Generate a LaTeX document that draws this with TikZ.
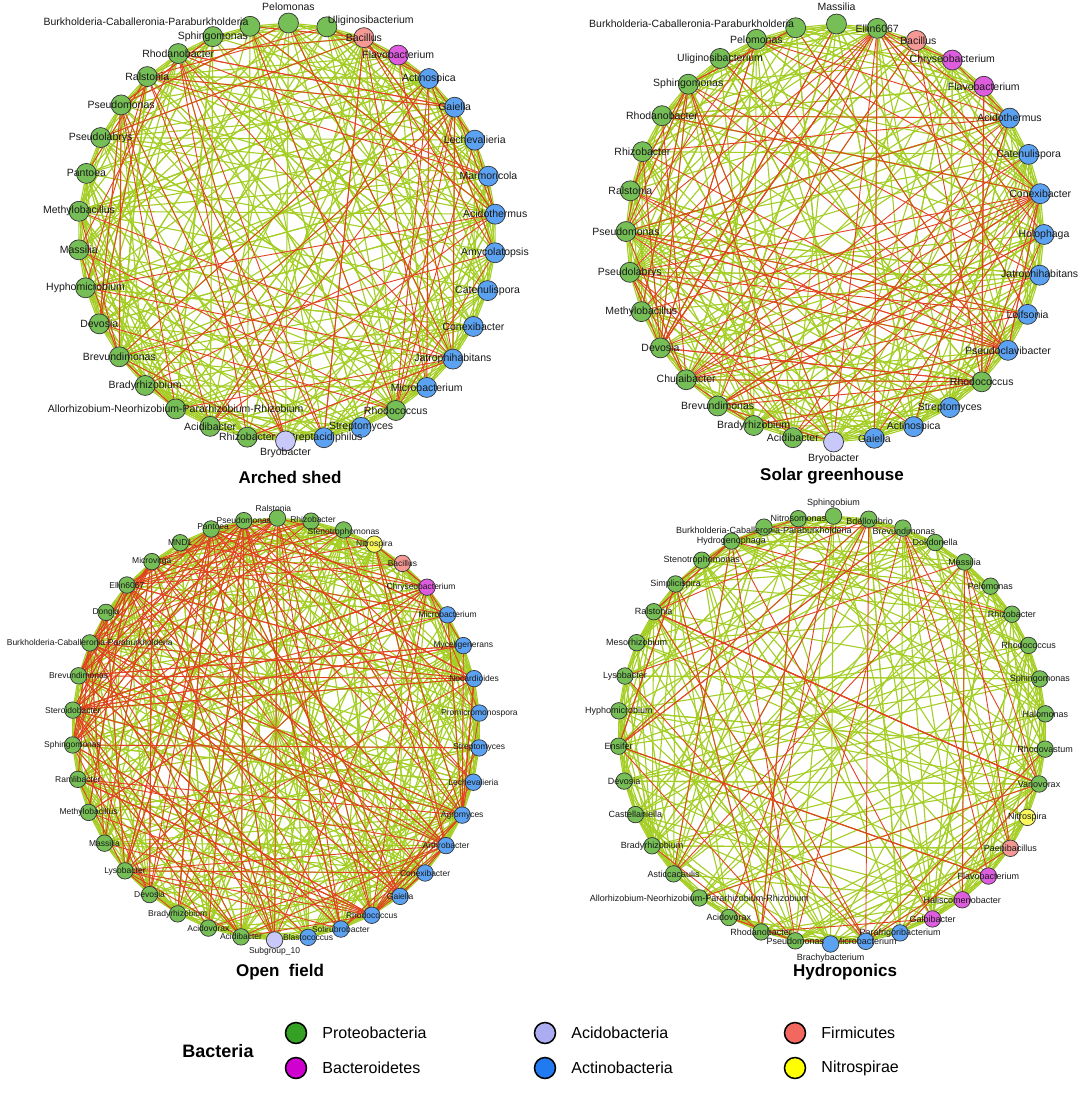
\documentclass[tikz,border=0pt]{standalone}
\usepackage{fontspec}
\setmainfont{Liberation Sans}
\usetikzlibrary{positioning,backgrounds}

\definecolor{proteo}{RGB}{118,190,86}
\definecolor{bactero}{RGB}{222,92,222}
\definecolor{acido}{RGB}{200,200,250}
\definecolor{actino}{RGB}{92,162,242}
\definecolor{firmi}{RGB}{246,152,148}
\definecolor{nitro}{RGB}{250,248,92}
\definecolor{proteoL}{RGB}{52,160,36}
\definecolor{bacteroL}{RGB}{208,0,208}
\definecolor{acidoL}{RGB}{172,172,242}
\definecolor{actinoL}{RGB}{34,122,240}
\definecolor{firmiL}{RGB}{242,104,94}
\definecolor{nitroL}{RGB}{255,255,0}
\definecolor{edgegreen}{RGB}{164,206,36}
\definecolor{edgered}{RGB}{226,66,32}

\begin{document}
\begin{tikzpicture}[x=1pt, y=-1pt,
  otu/.style={circle, draw=black!80, line width=0.7pt, minimum size=20pt, inner sep=0pt},
  otusmall/.style={otu, minimum size=16.5pt},
  lbl/.style={inner sep=0pt, text=black!90, font=\fontsize{10.5}{12}\selectfont},
  lblsmall/.style={lbl, font=\fontsize{8.5}{10}\selectfont},
  lblmid/.style={lbl, font=\fontsize{9}{10}\selectfont},
  gedge/.style={draw=edgegreen, line width=1.1pt},
  redge/.style={draw=edgered, line width=0.9pt},
  title/.style={font=\bfseries\fontsize{17}{20}\selectfont},
  legdot/.style={circle, draw=black, line width=1.5pt, minimum size=21pt, inner sep=0pt},
  legtxt/.style={font=\fontsize{16}{18}\selectfont, inner sep=0pt}]

% Page size and background
\useasboundingbox (0,0) rectangle (1084,1098);
\begin{scope}[on background layer]
  \fill[white] (0,0) rectangle (1084,1098);
\end{scope}

% Edges: ring of short chords, random chords, red hubs
\def\webedges#1#2#3#4#5{%
  \pgfmathtruncatemacro\lastn{#2-1}%
  \foreach \i in {0,...,\lastn}{%
    \foreach \k in {1,2,3}{%
      \pgfmathtruncatemacro\j{mod(\i+\k,#2)}%
      \draw[gedge] (#1\i) -- (#1\j);
    }%
    \foreach \k in {1,...,#3}{%
      \pgfmathtruncatemacro\j{mod(\i+random(4,#2-4),#2)}%
      \draw[gedge] (#1\i) -- (#1\j);
    }%
  }%
  \foreach \h in {#4}{%
    \foreach \k in {1,...,#5}{%
      \pgfmathtruncatemacro\j{mod(\h+random(2,#2-2),#2)}%
      \draw[redge] (#1\h) -- (#1\j);
    }%
  }%
}
\def\startang{-89.6}
\pgfmathsetseed{4711}

% Arched shed
\begin{scope}[shift={(287,232)}]
\foreach \nm/\cl/\lx/\ly [count=\i from 0] in {Pelomonas/proteo/0/-16,
  Uliginosibacterium/proteo/44/-6, Bacillus/firmi/0/0, Flavobacterium/bactero/0/0,
  Actinospica/actino/0/0, Gaiella/actino/0/0, Lechevalieria/actino/0/0, Marmoricola/actino/0/0,
  Acidothermus/actino/0/0, Amycolatopsis/actino/0/0, Catenulispora/actino/0/0, Conexibacter/actino/0/0,
  Jatrophihabitans/actino/0/0, Microbacterium/actino/0/0, Rhodococcus/proteo/0/0, Streptomyces/actino/0/0,
  Streptacidiphilus/actino/0/0, Bryobacter/acido/0/12, Rhizobacter/proteo/0/0, Acidibacter/proteo/0/0,
  Allorhizobium-Neorhizobium-Pararhizobium-Rhizobium/proteo/0/0, Bradyrhizobium/proteo/0/0,
  Brevundimonas/proteo/0/0, Devosia/proteo/0/0, Hyphomicrobium/proteo/0/0, Massilia/proteo/0/0,
  Methylobacillus/proteo/0/0, Pantoea/proteo/0/0, Pseudolabrys/proteo/0/0, Pseudomonas/proteo/0/0,
  Ralstonia/proteo/0/0, Rhodanobacter/proteo/0/0, Sphingomonas/proteo/0/0,
  Burkholderia-Caballeronia-Paraburkholderia/proteo/-104/-5}{
  \node[otu, fill=\cl] (a\i) at ({\startang+\i*360/34}:209) {};
  \node[lbl] (ta\i) at ([shift={(\lx,\ly)}]a\i) {\nm};
}
\end{scope}
\begin{scope}[on background layer]
  \webedges{a}{34}{7}{30,29,2,5,14,22,8,31,12,4}{7}
\end{scope}
\node[title] (tarch) at (290,477) {Arched shed};

% Solar greenhouse
\begin{scope}[shift={(835,233)}]
\foreach \nm/\cl/\lx/\ly [count=\i from 0] in {Massilia/proteo/0/-17,
  Ellin6067/proteo/0/0, Bacillus/firmi/2/0, Chryseobacterium/bactero/0/0, Flavobacterium/bactero/0/0,
  Acidothermus/actino/0/0, Catenulispora/actino/0/0, Conexibacter/actino/0/0, Holophaga/actino/0/0,
  Jatrophihabitans/actino/0/0, Leifsonia/actino/0/0, Pseudoclavibacter/actino/0/0, Rhodococcus/proteo/0/0,
  Streptomyces/actino/0/0, Actinospica/actino/0/0, Gaiella/actino/0/0, Bryobacter/acido/0/17,
  Acidibacter/proteo/0/0, Bradyrhizobium/proteo/0/0, Brevundimonas/proteo/0/0, Chujaibacter/proteo/0/0,
  Devosia/proteo/0/0, Methylobacillus/proteo/0/0, Pseudolabrys/proteo/0/0, Pseudomonas/proteo/0/0,
  Ralstonia/proteo/0/0, Rhizobacter/proteo/0/0, Rhodanobacter/proteo/0/0, Sphingomonas/proteo/0/0,
  Uliginosibacterium/proteo/0/0, Pelomonas/proteo/0/0,
  Burkholderia-Caballeronia-Paraburkholderia/proteo/-104/-4}{
  \node[otu, fill=\cl] (b\i) at ({\startang+\i*360/32}:209) {};
  \node[lbl] (tb\i) at ([shift={(\lx,\ly)}]b\i) {\nm};
}
\end{scope}
\begin{scope}[on background layer]
  \webedges{b}{32}{7}{24,1,12,5,7,19,28,23,21,11,20}{8}
\end{scope}
\node[title] (tsolar) at (832,476) {Solar greenhouse};

% Open field
\begin{scope}[shift={(276,729)}]
\foreach \nm/\cl/\lx/\ly [count=\i from 0] in {Ralstonia/proteo/-4/-10,
  Rhizobacter/proteo/2/-2, Stenotrophomonas/proteo/0/2, Nitrospira/nitro/0/0, Bacillus/firmi/0/0,
  Chryseobacterium/bactero/-6/0, Microbacterium/actino/0/0, Myceligenerans/actino/0/0,
  Nocardioides/actino/0/0, Promicromonospora/actino/0/0, Streptomyces/actino/0/0,
  Lechevalieria/actino/0/0, Agromyces/actino/0/0, Arthrobacter/actino/0/0, Conexibacter/actino/0/0,
  Gaiella/actino/0/0, Rhodococcus/actino/0/0, Solirubrobacter/actino/0/0, Blastococcus/actino/0/0,
  Subgroup\_10/acido/0/11, Acidibacter/proteo/0/0, Acidovorax/proteo/0/0, Bradyrhizobium/proteo/0/0,
  Devosia/proteo/0/0, Lysobacter/proteo/0/0, Massilia/proteo/0/0, Methylobacillus/proteo/0/0,
  Ramlibacter/proteo/0/0, Sphingomonas/proteo/0/0, Steroidobacter/proteo/0/0,
  Brevundimonas/proteo/0/0, Burkholderia-Caballeronia-Paraburkholderia/proteo/0/0,
  Dongia/proteo/0/0, Ellin6067/proteo/0/0, Microvirga/proteo/0/0, MND1/proteo/0/0,
  Pantoea/proteo/2/-2, Pseudomonas/proteo/0/0}{
  \node[otusmall, fill=\cl] (c\i) at ({\startang+\i*360/38}:204 and 211) {};
  \node[lblsmall] (tc\i) at ([shift={(\lx,\ly)}]c\i) {\nm};
}
\end{scope}
\begin{scope}[on background layer]
  \webedges{c}{38}{8}{0,37,30,31,5,16,36,29,28,13,12,33,34,24}{12}
\end{scope}
\node[title] (topen) at (280,972) {Open\ \ field};

% Hydroponics
\begin{scope}[shift={(832,730)}]
\foreach \nm/\cl/\lx/\ly [count=\i from 0] in {Sphingobium/proteo/0/-13,
  Bdellovibrio/proteo/1/2, Brevundimonas/proteo/1/3, Dokdonella/proteo/0/0, Massilia/proteo/0/0,
  Pelomonas/proteo/0/0, Rhizobacter/proteo/0/0, Rhodococcus/proteo/0/0, Sphingomonas/proteo/0/0,
  Halomonas/proteo/0/0, Rhodovastum/proteo/0/0, Variovorax/proteo/0/0, Nitrospira/nitro/0/0,
  Paenibacillus/firmi/0/0, Flavobacterium/bactero/0/0, Haliscomenobacter/bactero/0/0,
  Galbibacter/bactero/0/0, Parafrigoribacterium/actino/0/0, Microbacterium/actino/0/0,
  Brachybacterium/actino/0/14, Pseudomonas/proteo/0/0, Rhodanobacter/proteo/0/0, Acidovorax/proteo/0/0,
  Allorhizobium-Neorhizobium-Pararhizobium-Rhizobium/proteo/0/0, Asticcacaulis/proteo/0/0,
  Bradyrhizobium/proteo/0/0, Castellaniella/proteo/0/0, Devosia/proteo/0/0, Ensifer/proteo/0/0,
  Hyphomicrobium/proteo/0/0, Lysobacter/proteo/0/0, Mesorhizobium/proteo/0/0, Ralstonia/proteo/0/0,
  Simplicispira/proteo/0/0, Stenotrophomonas/proteo/0/0, Hydrogenophaga/proteo/0/0,
  Burkholderia-Caballeronia-Paraburkholderia/proteo/0/3, Nitrosomonas/proteo/0/0}{
  \node[otusmall, fill=\cl] (d\i) at ({\startang+\i*360/38}:214) {};
  \node[lblmid] (td\i) at ([shift={(\lx,\ly)}]d\i) {\nm};
}
\end{scope}
\begin{scope}[on background layer]
  \webedges{d}{38}{5}{32,21,20,1,2,4,11,18,28,35}{5}
\end{scope}
\node[title] (thydro) at (845,972) {Hydroponics};

% Legend
\node[font=\bfseries\fontsize{18}{20}\selectfont] (legt) at (218,1051) {Bacteria};
\node[legdot, fill=proteoL] (lg1) at (296,1033) {};
\node[legtxt, right=15pt of lg1] (tlg1) {Proteobacteria};
\node[legdot, fill=bacteroL] (lg2) at (296,1068) {};
\node[legtxt, right=15pt of lg2] (tlg2) {Bacteroidetes};
\node[legdot, fill=acidoL] (lg3) at (545,1033) {};
\node[legtxt, right=15pt of lg3] (tlg3) {Acidobacteria};
\node[legdot, fill=actinoL] (lg4) at (545,1068) {};
\node[legtxt, right=15pt of lg4] (tlg4) {Actinobacteria};
\node[legdot, fill=firmiL] (lg5) at (795,1033) {};
\node[legtxt, right=15pt of lg5] (tlg5) {Firmicutes};
\node[legdot, fill=nitroL] (lg6) at (795,1068) {};
\node[legtxt, right=15pt of lg6] (tlg6) {Nitrospirae};
\end{tikzpicture}
\end{document}
